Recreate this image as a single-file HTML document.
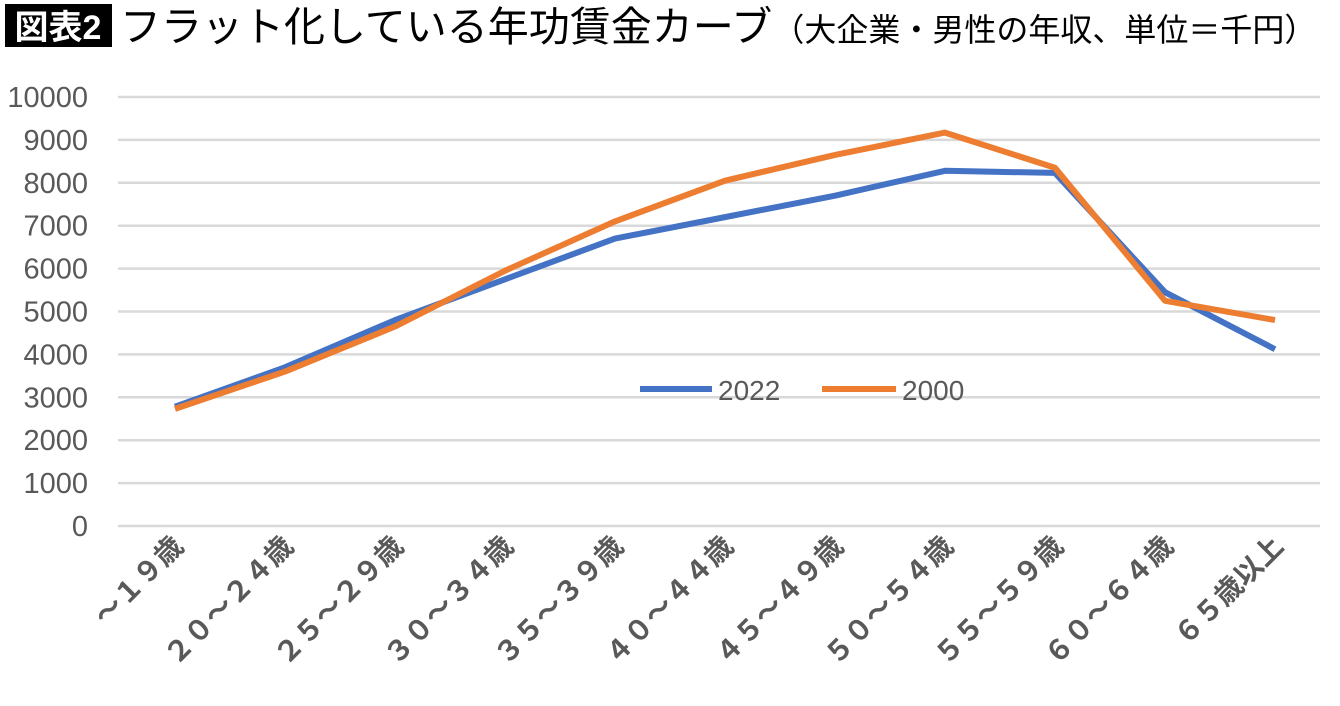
<!DOCTYPE html>
<html><head><meta charset="utf-8"><style>
body{margin:0;background:#fff;width:1340px;height:701px;overflow:hidden;font-family:"Liberation Sans","Noto Sans CJK JP",sans-serif}
</style></head><body>
<svg width="1340" height="701" viewBox="0 0 1340 701" id="svg" style="font-family:'Liberation Sans','Noto Sans CJK JP',sans-serif">
<rect x="5" y="4" width="107" height="43" fill="#000"/>
<text x="58" y="39" font-size="34" fill="#fff" text-anchor="middle" font-weight="bold">図表2</text>
<text x="120" y="41" font-size="41" fill="#000">フラット化している年功賃金カーブ<tspan font-size="32">（大企業・男性の年収、単位＝千円）</tspan></text>
<g id="grid"></g><g id="series"></g><g id="xlabels"></g>
<g>
<line x1="640" y1="389" x2="712" y2="389" stroke="#4472C4" stroke-width="6"/>
<text x="718" y="400" font-size="28" fill="#595959">2022</text>
<line x1="822" y1="389" x2="896" y2="389" stroke="#ED7D31" stroke-width="6"/>
<text x="902" y="400" font-size="28" fill="#595959">2000</text>
</g>
</svg>
<script>
const categories=["～１９歳","２０～２４歳","２５～２９歳","３０～３４歳","３５～３９歳","４０～４４歳","４５～４９歳","５０～５４歳","５５～５９歳","６０～６４歳","６５歳以上"];
const s2022=[2780,3700,4800,5750,6700,7200,7700,8280,8230,5450,4120];
const s2000=[2730,3600,4650,5950,7100,8050,8650,9170,8350,5250,4800];
const yTicks=[0,1000,2000,3000,4000,5000,6000,7000,8000,9000,10000];
const NS="http://www.w3.org/2000/svg";
const y=v=>526-v*0.0429;
const x=i=>175+i*110;
const grid=document.getElementById('grid');
yTicks.forEach(t=>{
 const l=document.createElementNS(NS,'line');
 l.setAttribute('x1',118);l.setAttribute('x2',1320);l.setAttribute('y1',y(t));l.setAttribute('y2',y(t));
 l.setAttribute('stroke','#d9d9d9');l.setAttribute('stroke-width','2.5');
 
 
 grid.appendChild(l);
 const tx=document.createElementNS(NS,'text');
 tx.setAttribute('x',88);tx.setAttribute('y',y(t)+10);tx.setAttribute('text-anchor','end');
 tx.setAttribute('font-size','29');tx.setAttribute('fill','#595959');tx.textContent=t;
 
 
 grid.appendChild(tx);
});
const ser=document.getElementById('series');
[[s2022,'#4472C4','line-2022'],[s2000,'#ED7D31','line-2000']].forEach(([d,c,n])=>{
 const p=document.createElementNS(NS,'polyline');
 p.setAttribute('points',d.map((v,i)=>x(i)+','+y(v)).join(' '));
 p.setAttribute('fill','none');p.setAttribute('stroke',c);p.setAttribute('stroke-width','6');p.setAttribute('stroke-linejoin','round');
 
 
 ser.appendChild(p);
});
const xl=document.getElementById('xlabels');
categories.forEach((c,i)=>{
 const t=document.createElementNS(NS,'text');
 const ax=x(i)+10, ay=548;
 t.setAttribute('x',ax);t.setAttribute('y',ay);t.setAttribute('text-anchor','end');
 t.setAttribute('transform','rotate(-45 '+ax+' '+ay+')');
 t.setAttribute('font-size','28');t.setAttribute('font-weight','bold');t.setAttribute('fill','#595959');
 t.textContent=c;
 
 
 xl.appendChild(t);
});
</script>
</body></html>
